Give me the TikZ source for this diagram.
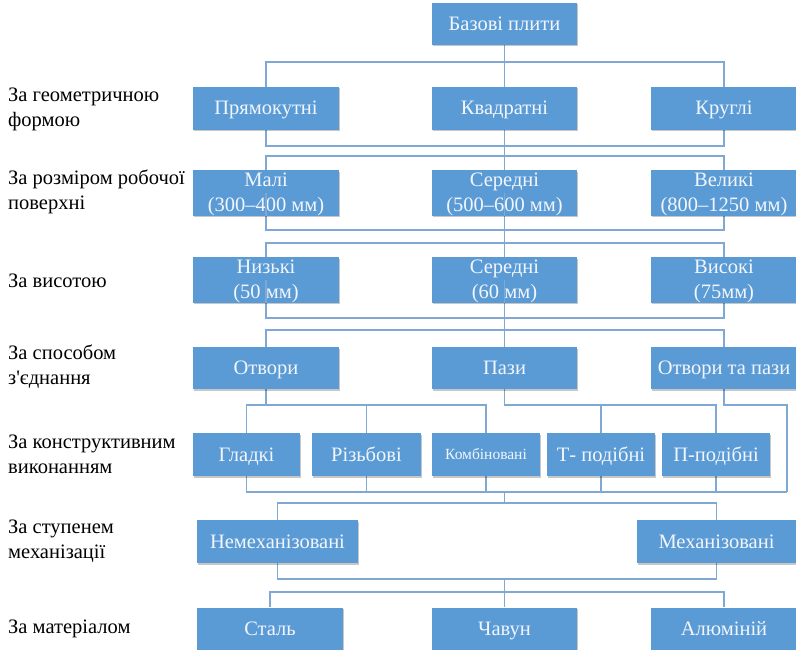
\documentclass[tikz,border=0pt]{standalone}
\usepackage{fontspec}
\setmainfont{Liberation Serif}
\newfontfamily\tnr{Liberation Serif}
\usetikzlibrary{backgrounds,shadows}
\definecolor{boxblue}{RGB}{91,155,213}
\definecolor{linkblue}{RGB}{128,168,212}
\definecolor{boxtext}{RGB}{242,246,252}
\newcommand\tstr{\rule{0pt}{16pt}}
\newcommand\bstr{\rule[-2.5pt]{0pt}{2.5pt}}
\begin{document}
\begin{tikzpicture}[x=1pt,y=-1pt,
  box/.style={fill=boxblue, text=boxtext, draw=none, inner xsep=2pt, inner ysep=0pt,
    align=center, font=\tnr\fontsize{20.5}{25}\selectfont, minimum height=43pt,
    drop shadow={shadow xshift=1pt, shadow yshift=-1.5pt, opacity=0.22, fill=black}},
  one/.style={text height=17.5pt, text depth=4.5pt},
  lbl/.style={anchor=west, align=left, inner sep=0pt, font=\tnr\fontsize{20.5}{25}\selectfont},
  ln/.style={draw=linkblue, line width=1.1pt}]
\useasboundingbox (0,0) rectangle (796,650);

% level labels
\node[lbl] (l1) at (8,109) {За геометричною\\формою};
\node[lbl] (l2) at (8,192) {За розміром робочої\\поверхні};
\node[lbl] (l3) at (8,280.5) {За висотою};
\node[lbl] (l4) at (8,367) {За способом\\з'єднання};
\node[lbl] (l5) at (8,454) {За конструктивним\\виконанням};
\node[lbl] (l6) at (8,541) {За ступенем\\механізації};
\node[lbl] (l7) at (8,628.5) {За матеріалом};

% boxes
\node[box, one, minimum width=145pt, minimum height=42pt] (top) at (504.5,24) {Базові плити};

\node[box, one, minimum width=146pt] (p1) at (266,108.5) {Прямокутні};
\node[box, one, minimum width=145pt] (k1) at (504.5,108.5) {Квадратні};
\node[box, one, minimum width=146pt] (r1) at (724,108.5) {Круглі};

\node[box, minimum width=146pt, minimum height=42pt] (p2) at (266,193) {\tstr Малі\\(300–400 мм)\bstr};
\node[box, minimum width=145pt, minimum height=42pt] (k2) at (504.5,193) {\tstr Середні\\(500–600 мм)\bstr};
\node[box, minimum width=146pt, minimum height=42pt] (r2) at (724,193) {\tstr Великі\\(800–1250 мм)\bstr};

\node[box, minimum width=146pt, minimum height=44pt] (p3) at (266,280) {\tstr Низькі\\(50 мм)\bstr};
\node[box, minimum width=145pt, minimum height=44pt] (k3) at (504.5,280) {\tstr Середні\\(60 мм)\bstr};
\node[box, minimum width=146pt, minimum height=44pt] (r3) at (724,280) {\tstr Високі\\(75мм)\bstr};

\node[box, one, minimum width=146pt, minimum height=42pt] (o4) at (266,368) {Отвори};
\node[box, one, minimum width=145pt, minimum height=42pt] (pz4) at (504.5,368) {Пази};
\node[box, one, minimum width=146pt, minimum height=42pt] (op4) at (724,368) {Отвори та пази};

\node[box, one, minimum width=107pt] (g5) at (246.5,454.5) {Гладкі};
\node[box, one, minimum width=109pt] (rz5) at (366.5,454.5) {Різьбові};
\node[box, minimum width=108pt, font=\tnr\fontsize{15.5}{18}\selectfont, text height=13pt, text depth=3pt] (kb5) at (486,454.5) {Комбіновані};
\node[box, one, minimum width=108pt] (tp5) at (601,454.5) {Т- подібні};
\node[box, one, minimum width=108pt] (pp5) at (716,454.5) {П-подібні};

\node[box, one, minimum width=161pt] (n6) at (277.5,541.5) {Немеханізовані};
\node[box, one, minimum width=159pt] (m6) at (716.5,541.5) {Механізовані};

\node[box, one, minimum width=146pt] (s7) at (270,629) {Сталь};
\node[box, one, minimum width=145pt] (ch7) at (504.5,629) {Чавун};
\node[box, one, minimum width=146pt] (al7) at (724,629) {Алюміній};

% bus levels
\coordinate (t1) at (0,62);
\coordinate (b1) at (0,146);
\coordinate (t2) at (0,156);
\coordinate (b2) at (0,230);
\coordinate (t3) at (0,243);
\coordinate (b3) at (0,318);
\coordinate (t4) at (0,330);
\coordinate (c45) at (0,405);
\coordinate (c56) at (0,492);
\coordinate (t6) at (0,503);
\coordinate (b6) at (0,579);
\coordinate (t7) at (0,592);
\coordinate (e) at (787,405);

\begin{scope}[on background layer]
  \draw[ln] (top.south) -- (pz4.north);
  \draw[ln] (p1.north) |- (r1.north|-t1) -- (r1.north);
  \draw[ln] (p1.south) |- (r1.south|-b1) -- (r1.south);
  \draw[ln] (p2.north) |- (r2.north|-t2) -- (r2.north);
  \draw[ln] (p2.south) |- (r2.south|-b2) -- (r2.south);
  \draw[ln] (p3.north) |- (r3.north|-t3) -- (r3.north);
  \draw[ln] (p3.south) |- (r3.south|-b3) -- (r3.south);
  \draw[ln] (o4.north) |- (op4.north|-t4) -- (op4.north);

  \draw[ln] (o4.south) -- (o4.south|-c45);
  \draw[ln] (g5.north) |- (kb5.north|-c45) -- (kb5.north);
  \draw[ln] (rz5.north) -- (rz5.north|-c45);
  \draw[ln] (pz4.south) |- (pp5.north|-c45) -- (pp5.north);
  \draw[ln] (tp5.north) -- (tp5.north|-c45);
  \draw[ln] (op4.south) |- (e) -- (e|-c56);

  \draw[ln] (g5.south) |- (e|-c56);
  \draw[ln] (rz5.south) -- (rz5.south|-c56);
  \draw[ln] (kb5.south) -- (kb5.south|-c56);
  \draw[ln] (tp5.south) -- (tp5.south|-c56);
  \draw[ln] (pp5.south) -- (pp5.south|-c56);
  \draw[ln] (top.south|-c56) -- (top.south|-t6);

  \draw[ln] (n6.north) |- (m6.north|-t6) -- (m6.north);
  \draw[ln] (n6.south) |- (m6.south|-b6) -- (m6.south);
  \draw[ln] (top.south|-b6) -- (ch7.north);
  \draw[ln] (s7.north) |- (al7.north|-t7) -- (al7.north);
\end{scope}

% connector lines that show through the lower half of some boxes
\draw[ln] (p2.center) -- (p2.south);
\draw[ln] (k2.center) -- (k2.south);
\draw[ln] (p3.center) -- (p3.south);
\draw[ln] (k3.center) -- (k3.south);
\end{tikzpicture}
\end{document}
